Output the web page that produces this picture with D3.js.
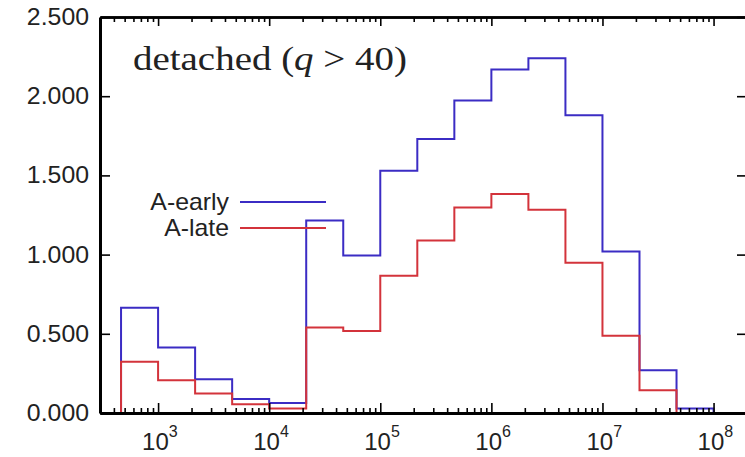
<!DOCTYPE html>
<html>
<head>
<meta charset="utf-8">
<script src="https://cdn.jsdelivr.net/npm/d3@7"></script>
<style>
  body { margin: 0; background: #fff; }
  text { font-family: "Liberation Sans", Arial, sans-serif; fill: #222; }
</style>
</head>
<body>
<div id="chart"></div>
<script>
// histogram bin edges (1/3 decade bins)
const binEdges = [464, 1000, 2154, 4642, 10000, 21544, 46416, 100000, 215443,
    464159, 1000000, 2154435, 4641589, 10000000, 21544347, 46415888, 100000000];

// counts per bin, in thousands
const earlyVals = [0.665, 0.414, 0.213, 0.089, 0.063, 1.215, 0.994, 1.530,
    1.730, 1.973, 2.169, 2.239, 1.880, 1.019, 0.270, 0.028];
const lateVals = [0.323, 0.207, 0.123, 0.055, 0.028, 0.540, 0.517, 0.867,
    1.089, 1.297, 1.382, 1.283, 0.949, 0.487, 0.144, 0.000];

const seriesNames = ["A-early", "A-late"];
const seriesColors = ["#3b2cc4", "#d3333b"];

const yTicks = [0, 0.5, 1, 1.5, 2, 2.5];
const xMajor = [1e3, 1e4, 1e5, 1e6, 1e7, 1e8];
const xExponents = ["3", "4", "5", "6", "7", "8"];

let margin = { top: 17, right: -2, bottom: 44, left: 100 },
    width = 745 - margin.left - margin.right,
    height = 457 - margin.top - margin.bottom;

let svg = d3.select('#chart')
    .append('svg')
    .attr('width', 745)
    .attr('height', 457)
    .append('g')
    .attr("transform", "translate(" + margin.left + "," + margin.top + ")");

let x = d3.scaleLog()
    .domain([300, 2e8])
    .range([0, width]);

let y = d3.scaleLinear()
    .domain([0, 2.5])
    .range([height, 0]);

// minor ticks 2..9 per decade
let xMinor = [];
for (let e = 2; e <= 8; e++) {
    for (let m = 2; m <= 9; m++) {
        let v = m * Math.pow(10, e);
        if (v > 300 && v < 2e8) xMinor.push(v);
    }
}

// draw histograms (A-early first, A-late on top)
let line = d3.line()
    .x(function (d) { return x(d[0]); })
    .y(function (d) { return y(d[1]); });

function stepPoints(vals) {
    let pts = [[binEdges[0], 0]];
    vals.forEach(function (v, i) {
        pts.push([binEdges[i], v]);
        pts.push([binEdges[i + 1], v]);
    });
    pts.push([binEdges[binEdges.length - 1], 0]);
    return pts;
}

[earlyVals, lateVals].forEach(function (vals, i) {
    svg.append("path")
        .attr("d", line(stepPoints(vals)))
        .attr("fill", "none")
        .attr("stroke", seriesColors[i])
        .attr("stroke-width", 2);
});

// axes
function styleAxis(g, w) {
    g.select(".domain").attr("stroke", "#000").attr("stroke-width", w);
    g.selectAll(".tick line").attr("stroke", "#000").attr("stroke-width", 1.6);
    g.selectAll(".tick text").remove();
}

// bottom: major + minor ticks pointing inward
svg.append("g")
    .attr("transform", "translate(0," + height + ")")
    .call(d3.axisBottom(x).tickValues(xMinor).tickSizeInner(-5).tickSizeOuter(0))
    .call(styleAxis, 3);
svg.append("g")
    .attr("transform", "translate(0," + height + ")")
    .call(d3.axisBottom(x).tickValues(xMajor).tickSizeInner(-10).tickSizeOuter(0))
    .call(styleAxis, 3);

// top
svg.append("g")
    .call(d3.axisTop(x).tickValues(xMinor).tickSizeInner(-5).tickSizeOuter(0))
    .call(styleAxis, 2.5);
svg.append("g")
    .call(d3.axisTop(x).tickValues(xMajor).tickSizeInner(-9).tickSizeOuter(0))
    .call(styleAxis, 2.5);

// left & right
svg.append("g")
    .call(d3.axisLeft(y).tickValues(yTicks).tickSizeInner(-10).tickSizeOuter(0))
    .call(styleAxis, 3);
svg.append("g")
    .attr("transform", "translate(" + width + ",0)")
    .call(d3.axisRight(y).tickValues(yTicks).tickSizeInner(-10).tickSizeOuter(0))
    .call(styleAxis, 3);

// y tick labels (slightly wide text like the original)
yTicks.forEach(function (v) {
    svg.append("g")
        .attr("transform", "translate(-11," + (y(v) + 8) + ") scale(1.08,1)")
        .append("text")
        .attr("text-anchor", "end")
        .style("font-size", "23px")
        .text(d3.format(".3f")(v));
});

// x tick labels 10^n
xMajor.forEach(function (v, i) {
    let t = svg.append("text")
        .attr("x", x(v) - 16)
        .attr("y", height + 36.5)
        .style("font-size", "24px");
    t.append("tspan").text("10");
    t.append("tspan")
        .attr("dy", -12.6)
        .style("font-size", "16px")
        .text(xExponents[i]);
});

// legend
seriesNames.forEach(function (name, i) {
    let ly = 202 + i * 26 - margin.top;
    svg.append("g")
        .attr("transform", "translate(" + (229 - margin.left) + "," + (ly + 8) + ") scale(1.08,1)")
        .append("text")
        .attr("text-anchor", "end")
        .style("font-size", "23px")
        .text(name);
    svg.append("line")
        .attr("x1", 240 - margin.left)
        .attr("x2", 326 - margin.left)
        .attr("y1", ly)
        .attr("y2", ly)
        .attr("stroke", seriesColors[i])
        .attr("stroke-width", 2);
});

// panel title
let title = svg.append("text")
    .attr("x", 0)
    .attr("y", 0)
    .style("font-family", "'Liberation Serif', 'Times New Roman', serif")
    .style("font-size", "33px");
title.append("tspan").text("detached (");
title.append("tspan").style("font-style", "italic").text("q");
title.append("tspan").text(" > 40)");
let tw = title.node().getComputedTextLength();
title.attr("transform", "translate(" + (133 - margin.left) + "," + (70 - margin.top) + ") scale(" + (274 / tw) + ",1)");
</script>
</body>
</html>
